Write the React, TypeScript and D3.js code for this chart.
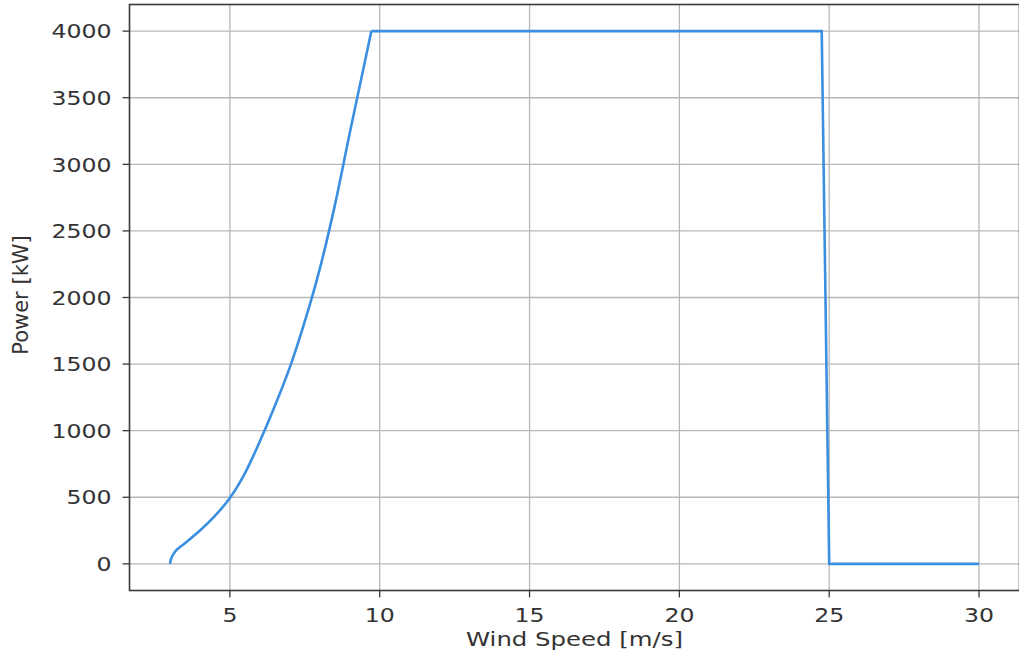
import React from "react";
import * as d3 from "d3";

// Rising part of the power curve (wind speed m/s, power kW)
const riseSpeed = [3.0, 3.05, 3.2, 3.5, 4.0, 4.5, 5.0, 5.5, 6.0, 6.5, 7.0, 7.5, 8.0, 8.5, 9.0, 9.5, 9.72];
const risePower = [0, 45, 100, 155, 250, 360, 495, 680, 920, 1185, 1475, 1820, 2215, 2690, 3235, 3765, 4000];
// Rated plateau and cut-out
const tailSpeed = [9.72, 24.75, 25.0, 30.0];
const tailPower = [4000, 4000, 0, 0];

const xTicks = [5, 10, 15, 20, 25, 30];
const yTicks = [0, 500, 1000, 1500, 2000, 2500, 3000, 3500, 4000];

const W = 1019;
const H = 663;
const FONT = "'DejaVu Sans', sans-serif";
const SX = 1.18;

export default function App() {
  const x = d3.scaleLinear().domain([1.65, 31.35]).range([129.5, 1019.5]);
  const y = d3.scaleLinear().domain([-200, 4200]).range([590.5, 4.5]);

  const rise = riseSpeed.map((s, i) => [s, risePower[i]] as [number, number]);
  const tail = tailSpeed.map((s, i) => [s, tailPower[i]] as [number, number]);

  const curveLine = d3
    .line<[number, number]>()
    .x((d) => x(d[0]))
    .y((d) => y(d[1]))
    .curve(d3.curveCatmullRom.alpha(0.5));
  const linLine = d3
    .line<[number, number]>()
    .x((d) => x(d[0]))
    .y((d) => y(d[1]));

  const left = x(1.65);
  const right = x(31.35);
  const top = y(4200);
  const bottom = y(-200);
  const axisColor = "#3a3a3a";
  const gridColor = "#b8b8b8";
  const lineColor = "#3b8fe0";

  return (
    <svg
      width={W}
      height={H}
      style={{ position: "absolute", left: 0, top: 0, background: "#fff" }}
      fontFamily={FONT}
    >
      <rect x={0} y={0} width={W} height={H} fill="#fff" />
      {/* grid */}
      {xTicks.map((t) => (
        <line key={"gx" + t} x1={x(t)} x2={x(t)} y1={top} y2={bottom} stroke={gridColor} strokeWidth={1.3} />
      ))}
      {yTicks.map((t) => (
        <line key={"gy" + t} x1={left} x2={right} y1={y(t)} y2={y(t)} stroke={gridColor} strokeWidth={1.3} />
      ))}
      {/* data */}
      <path d={curveLine(rise) || ""} fill="none" stroke={lineColor} strokeWidth={2.6} strokeLinejoin="round" />
      <path d={linLine(tail) || ""} fill="none" stroke={lineColor} strokeWidth={2.6} strokeLinejoin="miter" />
      {/* spines */}
      <rect x={left} y={top} width={right - left} height={bottom - top} fill="none" stroke={axisColor} strokeWidth={1.6} />
      {/* x ticks */}
      {xTicks.map((t) => (
        <g key={"tx" + t}>
          <line x1={x(t)} x2={x(t)} y1={bottom} y2={bottom + 7} stroke={axisColor} strokeWidth={1.3} />
          <text
            transform={`translate(${x(t)},${bottom + 31}) scale(${SX},1)`}
            textAnchor="middle"
            fontSize={20}
            fill="#333"
          >
            {t}
          </text>
        </g>
      ))}
      {/* y ticks */}
      {yTicks.map((t) => (
        <g key={"ty" + t}>
          <line x1={left - 7} x2={left} y1={y(t)} y2={y(t)} stroke={axisColor} strokeWidth={1.3} />
          <text
            transform={`translate(${left - 18},${y(t)}) scale(${SX},1)`}
            textAnchor="end"
            dy="0.36em"
            fontSize={20}
            fill="#333"
          >
            {t}
          </text>
        </g>
      ))}
      {/* axis labels */}
      <text
        transform={`translate(${(left + right) / 2},646) scale(1.22,1)`}
        textAnchor="middle"
        fontSize={20}
        fill="#333"
      >
        Wind Speed [m/s]
      </text>
      <text
        transform={`translate(28,295) rotate(-90)`}
        textAnchor="middle"
        fontSize={21}
        fill="#333"
      >
        Power [kW]
      </text>
    </svg>
  );
}
